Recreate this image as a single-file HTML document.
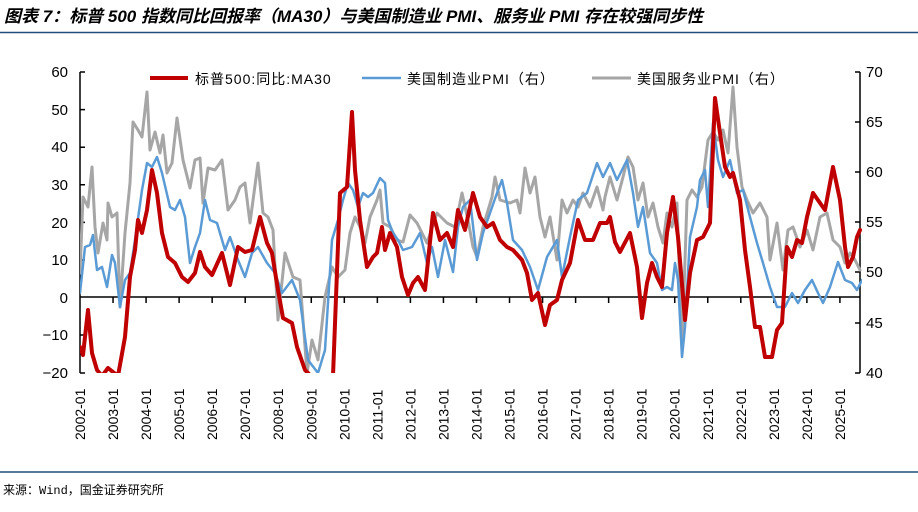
<!DOCTYPE html>
<html><head><meta charset="utf-8"><style>
body{margin:0;background:#fff;}
svg{display:block;font-family:"Liberation Sans","Noto Sans CJK SC",sans-serif;}
</style></head><body>
<svg width="918" height="512" viewBox="0 0 918 512" xmlns="http://www.w3.org/2000/svg">
<text x="4" y="22" font-size="17" font-weight="bold" font-style="italic" fill="#000" font-family="'Liberation Sans','Noto Sans CJK SC',sans-serif">图表 7：标普 500 指数同比回报率（MA30）与美国制造业 PMI、服务业 PMI 存在较强同步性</text>
<line x1="0" y1="32.5" x2="918" y2="32.5" stroke="#1f4e79" stroke-width="1.5"/>
<line x1="0" y1="472" x2="918" y2="472" stroke="#1f4e79" stroke-width="1.5"/>
<text x="3" y="494" font-size="12" fill="#000" font-family="'Liberation Mono','Noto Sans CJK SC',monospace">来源：Wind，国金证券研究所</text>
<defs><clipPath id="c"><rect x="80" y="72" width="782" height="301"/></clipPath></defs>
<g font-size="15" fill="#000" text-anchor="end">
<text x="68" y="77">60</text><text x="68" y="115">50</text><text x="68" y="152">40</text><text x="68" y="190">30</text><text x="68" y="228">20</text><text x="68" y="265">10</text><text x="68" y="303">0</text><text x="68" y="340">−10</text><text x="68" y="378">−20</text>
</g>
<g font-size="15" fill="#000">
<text x="866" y="77">70</text><text x="866" y="127">65</text><text x="866" y="177">60</text><text x="866" y="227">55</text><text x="866" y="277">50</text><text x="866" y="328">45</text><text x="866" y="378">40</text>
</g>
<g stroke="#000" stroke-width="1.5" fill="none">
<line x1="80" y1="72" x2="80" y2="373"/>
<line x1="860" y1="72" x2="860" y2="373"/>
<line x1="80" y1="297" x2="860" y2="297"/>
<path d="M80 72h5M80 109.6h5M80 147.2h5M80 184.8h5M80 222.4h5M80 260h5M80 335h5M80 373h5"/>
<path d="M860 72h-5M860 122h-5M860 172h-5M860 222h-5M860 272h-5M860 323h-5M860 373h-5"/>
<path d="M113.04 297v6M146.08 297v6M179.12 297v6M212.16 297v6M245.2 297v6M278.24 297v6M311.28 297v6M344.32 297v6M377.36 297v6M410.4 297v6M443.44 297v6M476.48 297v6M509.52 297v6M542.56 297v6M575.6 297v6M608.64 297v6M641.68 297v6M674.72 297v6M707.76 297v6M740.8 297v6M773.84 297v6M806.88 297v6M839.92 297v6"/>
</g>
<g font-size="14" fill="#000">
<text transform="translate(85,440) rotate(-90)">2002-01</text>
<text transform="translate(118.04,440) rotate(-90)">2003-01</text>
<text transform="translate(151.08,440) rotate(-90)">2004-01</text>
<text transform="translate(184.12,440) rotate(-90)">2005-01</text>
<text transform="translate(217.16,440) rotate(-90)">2006-01</text>
<text transform="translate(250.2,440) rotate(-90)">2007-01</text>
<text transform="translate(283.24,440) rotate(-90)">2008-01</text>
<text transform="translate(316.28,440) rotate(-90)">2009-01</text>
<text transform="translate(349.32,440) rotate(-90)">2010-01</text>
<text transform="translate(382.36,440) rotate(-90)">2011-01</text>
<text transform="translate(415.4,440) rotate(-90)">2012-01</text>
<text transform="translate(448.44,440) rotate(-90)">2013-01</text>
<text transform="translate(481.48,440) rotate(-90)">2014-01</text>
<text transform="translate(514.52,440) rotate(-90)">2015-01</text>
<text transform="translate(547.56,440) rotate(-90)">2016-01</text>
<text transform="translate(580.6,440) rotate(-90)">2017-01</text>
<text transform="translate(613.64,440) rotate(-90)">2018-01</text>
<text transform="translate(646.68,440) rotate(-90)">2019-01</text>
<text transform="translate(679.72,440) rotate(-90)">2020-01</text>
<text transform="translate(712.76,440) rotate(-90)">2021-01</text>
<text transform="translate(745.8,440) rotate(-90)">2022-01</text>
<text transform="translate(778.84,440) rotate(-90)">2023-01</text>
<text transform="translate(811.88,440) rotate(-90)">2024-01</text>
<text transform="translate(844.92,440) rotate(-90)">2025-01</text>
</g>
<g clip-path="url(#c)" fill="none" stroke-linejoin="round" stroke-linecap="round">
<polyline stroke="#a6a6a6" stroke-width="3" points="80,273 83,197 88,207 92,167 95,227 98,253 103,223 107,240 108,203 112,217 117,213 120,307 125,233 130,183 133,122 138,130 142,137 147,92 150,150 155,132 160,153 163,135 167,173 172,163 177,118 183,160 190,188 195,160 200,158 203,203 208,168 215,170 222,160 228,210 235,200 240,187 245,183 250,223 258,163 263,213 268,217 273,230 278,320 285,253 293,277 300,280 307,373 312,340 318,360 325,297 332,267 338,277 345,270 350,233 355,217 360,227 365,243 370,217 377,200 380,190 383,223 390,227 397,240 403,242 410,215 417,223 427,243 437,213 447,223 455,227 462,193 468,220 473,247 477,257 483,227 492,197 495,177 500,200 510,203 517,200 520,213 525,168 530,193 535,177 540,217 545,237 550,217 557,260 562,200 567,213 573,200 578,207 583,193 590,207 597,187 603,210 605,197 610,177 617,200 623,177 628,157 633,167 638,200 643,183 648,217 653,203 658,227 663,243 667,213 672,227 677,203 682,350 687,200 692,190 697,197 702,187 708,140 713,132 718,140 723,130 728,153 733,87 737,147 742,187 747,200 753,213 760,203 767,217 770,260 777,223 783,270 788,230 793,227 800,247 807,230 813,250 820,217 827,213 833,240 840,247 845,263 850,253 855,260 860,270"/>
<polyline stroke="#5b9bd5" stroke-width="2.5" points="80,293 85,247 90,245 93,235 97,270 102,267 107,287 112,255 115,263 120,307 125,280 130,273 135,240 142,190 147,163 152,167 157,157 162,173 170,207 175,210 180,200 185,217 190,263 195,247 200,233 205,200 210,220 217,223 225,250 230,237 238,260 245,277 252,253 258,247 267,263 275,273 282,293 292,280 300,300 308,360 318,373 325,350 332,240 338,220 343,200 348,183 353,190 358,207 363,193 368,197 373,193 380,178 385,183 388,220 393,233 398,240 403,250 412,247 420,233 427,263 432,247 438,277 445,240 453,272 458,227 463,207 470,200 477,260 483,233 490,213 497,193 502,180 507,203 513,240 522,250 530,267 538,290 547,257 557,240 562,277 570,237 578,200 587,193 597,163 603,177 610,163 617,180 622,170 627,160 633,193 638,227 643,207 650,253 657,263 662,290 667,287 672,290 675,263 678,280 682,357 685,327 690,237 697,207 700,180 705,170 708,207 713,123 718,160 723,177 730,160 737,193 743,190 750,217 757,243 763,263 770,287 777,307 785,307 792,293 798,303 805,290 812,280 818,293 823,303 830,287 838,262 845,280 852,283 857,290 862,280"/>
<polyline stroke="#c00000" stroke-width="4" points="80,347 83,355 88,310 92,353 97,370 102,376 108,368 118,376 125,337 130,277 135,250 138,220 142,233 147,210 152,170 157,193 162,233 168,257 175,263 182,277 188,282 195,273 200,252 205,267 212,275 222,253 230,285 238,247 245,252 252,250 260,217 267,243 272,253 278,290 283,318 292,323 297,347 305,370 315,380 333,376 340,193 347,187 352,112 355,170 360,220 367,267 373,257 377,253 382,227 385,250 390,233 397,247 402,277 408,295 413,283 418,277 425,290 433,213 440,240 447,233 453,247 458,210 465,230 473,193 480,217 487,227 493,223 500,240 507,247 513,250 522,260 527,273 532,300 538,293 545,325 550,305 557,300 562,280 570,263 578,220 585,240 593,240 600,223 607,223 610,217 615,242 620,252 630,233 637,267 642,318 647,283 652,263 657,277 662,287 667,233 673,197 678,237 685,320 690,273 697,240 703,237 710,223 715,98 720,133 725,167 730,177 733,173 740,200 745,250 750,287 755,327 760,327 765,357 772,357 777,330 782,323 787,247 792,257 797,240 802,243 807,217 813,193 820,203 825,210 833,167 840,200 845,247 848,267 853,257 857,237 860,230"/>
</g>
<line x1="150" y1="78" x2="188" y2="78" stroke="#c00000" stroke-width="4"/>
<text x="195" y="84" font-size="14" fill="#000" letter-spacing="1">标普500:同比:MA30</text>
<line x1="362" y1="78" x2="401" y2="78" stroke="#5b9bd5" stroke-width="2.5"/>
<text x="407" y="84" font-size="14" fill="#000" letter-spacing="1">美国制造业PMI（右）</text>
<line x1="592" y1="78" x2="631" y2="78" stroke="#a6a6a6" stroke-width="3"/>
<text x="637" y="84" font-size="14" fill="#000" letter-spacing="1">美国服务业PMI（右）</text>
</svg>
</body></html>
